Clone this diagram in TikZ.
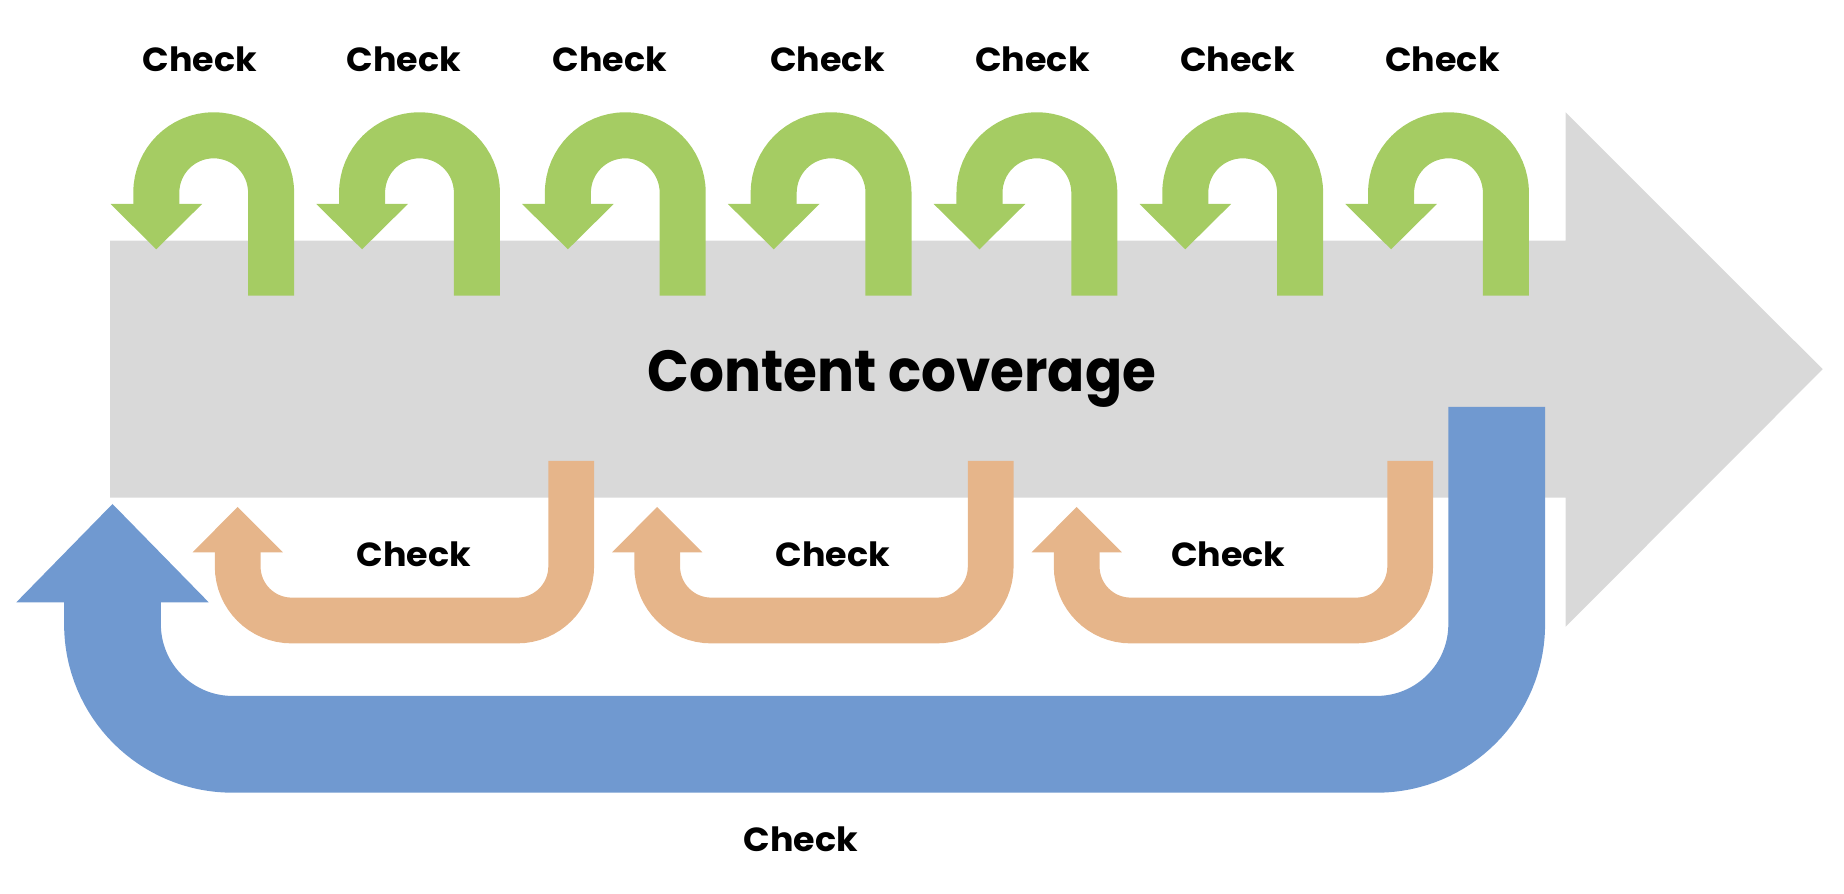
\documentclass[tikz,border=0pt]{standalone}
\usepackage{fontspec}
\setmainfont{Poppins}
\newfontfamily\checkfont{Poppins}[FakeStretch=1.045]
\newfontfamily\titlefont{Poppins}[FakeStretch=0.945]
\usepackage{tikz}
\usetikzlibrary{positioning}
\definecolor{flowgray}{RGB}{217,217,217}
\definecolor{loopgreen}{RGB}{165,204,99}
\definecolor{looporange}{RGB}{230,181,138}
\definecolor{loopblue}{RGB}{112,153,208}

\begin{document}
\begin{tikzpicture}[x=0.01cm,y=-0.01cm,
          every node/.style={font=\checkfont\bfseries\fontsize{9.5}{11}\selectfont,
            inner sep=0pt,anchor=base}]
        \useasboundingbox (0,0) rectangle (1844,894);
        % main arrow
        \fill[flowgray] (110,240.7) -- (1565.7,240.7) -- (1565.7,112.3)
          -- (1822.7,369.2) -- (1565.7,626.7) -- (1565.7,497.7)
          -- (110,497.7) -- cycle;
        \node[font=\titlefont\bfseries\fontsize{16.5}{20}\selectfont] (cov)
          at (902,391.5) {Content coverage};
        % small loops on top
        \foreach \c in {213.7,419.5,625.3,831.1,1036.9,1242.7,1448.5} {
          \draw[loopgreen,line width=0.46cm]
            (\c-57.4,205) -- (\c-57.4,192.7)
            arc[start angle=180,end angle=360,radius=57.4]
            -- (\c+57.4,295.7);
          \fill[loopgreen] (\c-103.2,204) -- (\c-11.6,204)
            -- (\c-57.4,249.3) -- cycle;
        }
        \foreach \x/\n in {200/1,404/2,610/3,827.5/4,1032.5/5,1237.5/6,1442.5/7}
          \node (top\n) at (\x,72) {Check};
        % middle loops below
        \foreach \l/\r in {237.7/571.2,657.2/990.7,1076.7/1410.2} {
          \draw[looporange,line width=0.457cm,rounded corners=0.54cm]
            (\r,461) -- (\r,620.5) -- (\l,620.5) -- (\l,551.3);
          \fill[looporange] (\l-45.2,552.3) -- (\l+45.2,552.3)
            -- (\l,507) -- cycle;
        }
        \foreach \x/\n in {413.7/1,833/2,1228.3/3}
          \node (mid\n) at (\x,566.7) {Check};
        % big loop
        \draw[loopblue,line width=0.967cm,rounded corners=1.2cm]
          (1496.7,407) -- (1496.7,744.3) -- (112.5,744.3) -- (112.5,601.3);
        \fill[loopblue] (16.3,602.3) -- (208.7,602.3) -- (112.5,504) -- cycle;
        \node (big) at (800.8,851.7) {Check};
\end{tikzpicture}
\end{document}
